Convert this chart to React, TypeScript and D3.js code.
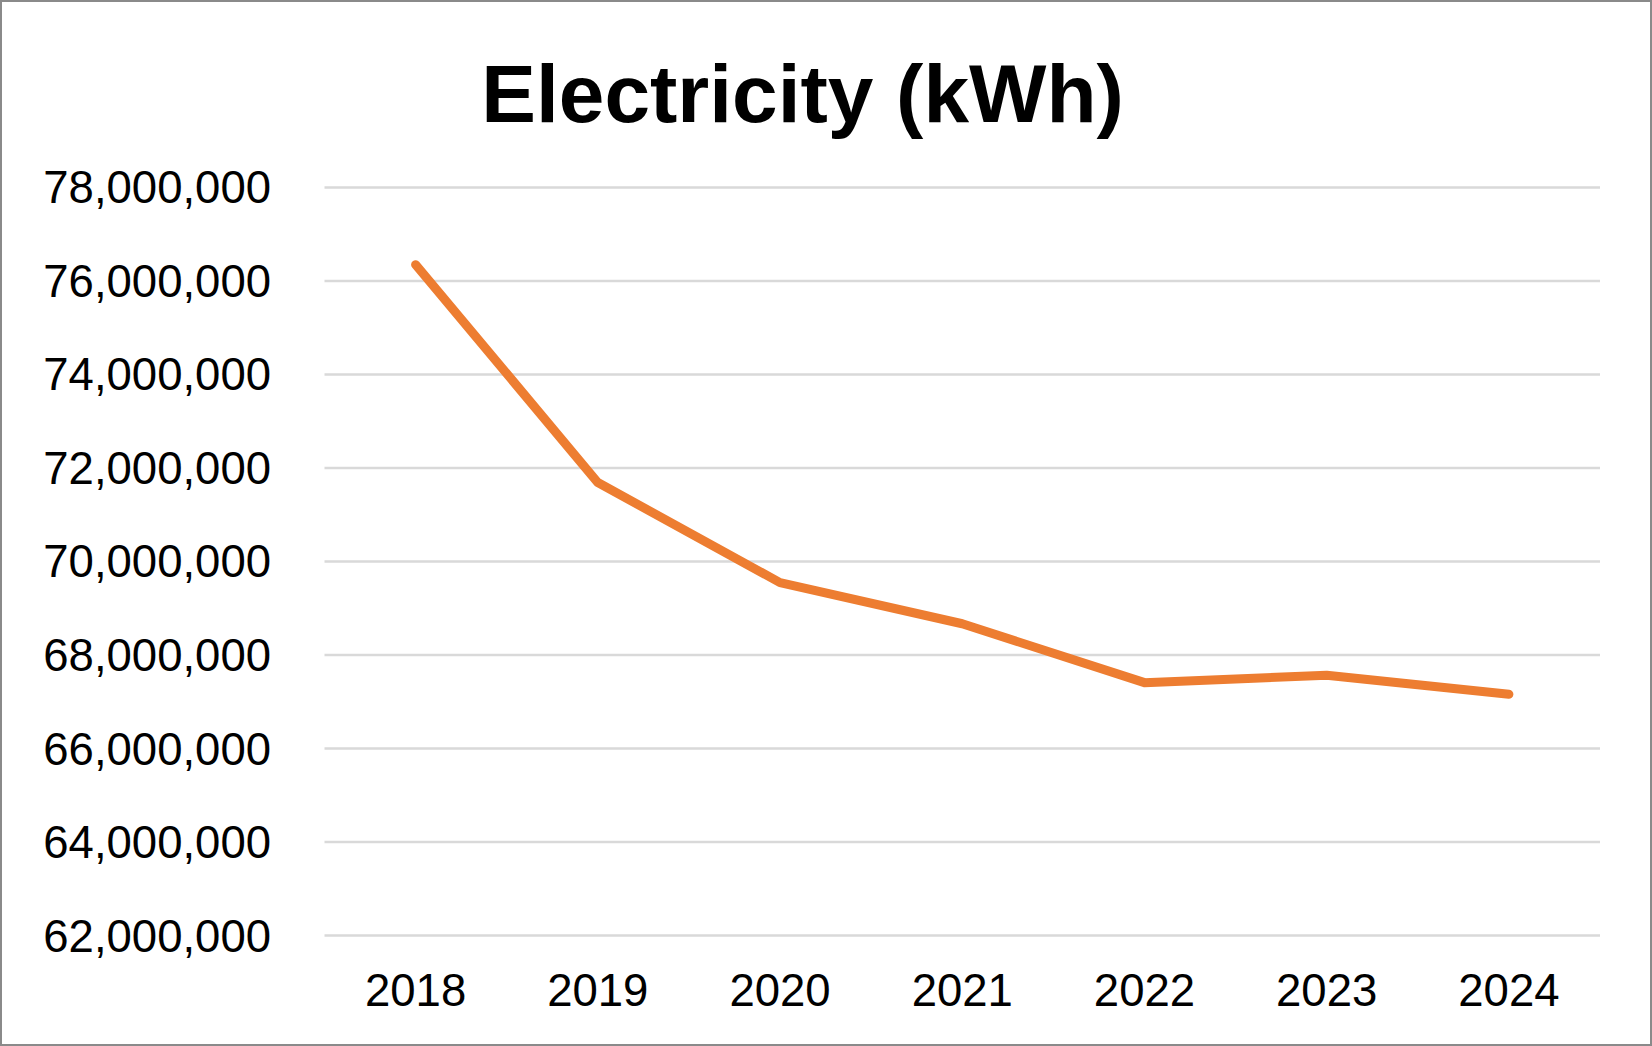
import { useEffect, useRef } from 'react';
import * as d3 from 'd3';

const years = ['2018', '2019', '2020', '2021', '2022', '2023', '2024'];
const electricity = [76350000, 71690000, 69550000, 68670000, 67410000, 67570000, 67160000];
const yTicks = [62000000, 64000000, 66000000, 68000000, 70000000, 72000000, 74000000, 76000000, 78000000];

const width = 1652;
const height = 1046;
const margin = { top: 187.5, right: 52, bottom: 110.4, left: 324.5 };
const font = '"Liberation Sans", Arial, sans-serif';

const App = () => {
    const svgRef = useRef<SVGSVGElement>(null);

    useEffect(() => {
        const svg = d3.select(svgRef.current);
        svg.selectAll('*').remove();

        const x = d3
            .scalePoint()
            .domain(years)
            .range([margin.left, width - margin.right])
            .padding(0.5);

        const y = d3
            .scaleLinear()
            .domain([62000000, 78000000])
            .range([height - margin.bottom, margin.top]);

        svg.append('rect')
            .attr('width', width)
            .attr('height', height)
            .attr('fill', '#fff');

        // outer frame
        svg.append('rect')
            .attr('x', 1)
            .attr('y', 1)
            .attr('width', width - 2)
            .attr('height', height - 2)
            .attr('fill', 'none')
            .attr('stroke', '#8a8a8a')
            .attr('stroke-width', 2);

        // gridlines
        svg.append('g')
            .selectAll('line')
            .data(yTicks)
            .join('line')
            .attr('x1', margin.left)
            .attr('x2', width - margin.right)
            .attr('y1', d => y(d))
            .attr('y2', d => y(d))
            .attr('stroke', '#d9d9d9')
            .attr('stroke-width', 2.5);

        const fmt = d3.format(',');

        // y labels
        svg.append('g')
            .selectAll('text')
            .data(yTicks)
            .join('text')
            .attr('x', 271)
            .attr('y', d => y(d))
            .attr('dy', '0.35em')
            .attr('text-anchor', 'end')
            .style('font-family', font)
            .style('font-size', '45.5px')
            .attr('fill', '#000')
            .text(d => fmt(d));

        // x labels
        svg.append('g')
            .selectAll('text')
            .data(years)
            .join('text')
            .attr('x', d => x(d) ?? 0)
            .attr('y', 1006)
            .attr('text-anchor', 'middle')
            .style('font-family', font)
            .style('font-size', '45.5px')
            .attr('fill', '#000')
            .text(d => d);

        const line = d3
            .line<number>()
            .x((_d, i) => x(years[i]) ?? 0)
            .y(d => y(d));

        svg.append('path')
            .datum(electricity)
            .attr('d', line)
            .attr('fill', 'none')
            .attr('stroke', '#ED7D31')
            .attr('stroke-width', 9)
            .attr('stroke-linecap', 'round')
            .attr('stroke-linejoin', 'round');

        // title
        svg.append('text')
            .attr('x', 802.6)
            .attr('y', 121.7)
            .attr('text-anchor', 'middle')
            .style('font-family', font)
            .style('font-size', '82px')
            .style('font-weight', 'bold')
            .attr('fill', '#000')
            .text('Electricity (kWh)');
    }, []);

    return (
        <svg
            ref={svgRef}
            width={width}
            height={height}
            style={{ position: 'absolute', left: 0, top: 0 }}
        ></svg>
    );
};

export default App;
